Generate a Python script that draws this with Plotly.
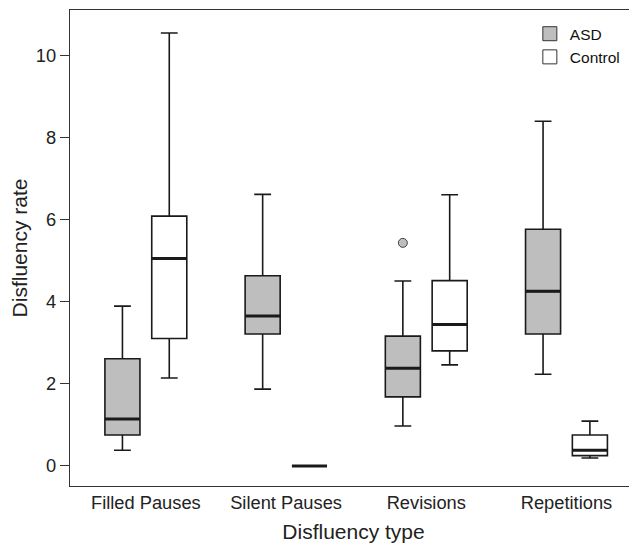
import plotly.graph_objects as go

categories = ["Filled Pauses", "Silent Pauses", "Revisions", "Repetitions"]

asd_low = [0.38, 1.87, 0.97, 2.23]
asd_q1 = [0.75, 3.21, 1.68, 3.21]
asd_med = [1.14, 3.65, 2.38, 4.25]
asd_q3 = [2.61, 4.63, 3.16, 5.76]
asd_high = [3.89, 6.61, 4.50, 8.39]

ctl_low = [2.14, 0.0, 2.46, 0.19]
ctl_q1 = [3.10, 0.0, 2.80, 0.25]
ctl_med = [5.05, 0.0, 3.44, 0.38]
ctl_q3 = [6.08, 0.0, 4.51, 0.75]
ctl_high = [10.54, 0.0, 6.60, 1.09]

asd_outlier_cat = [2]
asd_outlier_val = [5.43]

y_ticks = [0, 2, 4, 6, 8, 10]

GRAY = "#bebebe"
LINE = "#1a1a1a"
OFF = 0.167
BW = 0.25
FONT = "Liberation Sans, Arial, Helvetica, sans-serif"

fig = go.Figure()

groups = [
    ("ASD", -OFF, GRAY, asd_low, asd_q1, asd_med, asd_q3, asd_high),
    ("Control", OFF, "white", ctl_low, ctl_q1, ctl_med, ctl_q3, ctl_high),
]
for name, off, fill, lo, q1, med, q3, hi in groups:
    xs = [i + off for i in range(len(categories))]
    fig.add_trace(go.Box(
        x=xs, q1=q1, median=med, q3=q3, lowerfence=lo, upperfence=hi,
        width=BW, whiskerwidth=0.48, fillcolor=fill,
        line=dict(color=LINE, width=1.6), showlegend=False, name=name,
        boxpoints=False,
    ))
    # thick median lines
    fig.add_trace(go.Box(
        x=xs, q1=med, median=med, q3=med, lowerfence=med, upperfence=med,
        width=BW, whiskerwidth=0, fillcolor="rgba(0,0,0,0)",
        line=dict(color=LINE, width=3), showlegend=False, name=name + " median",
        boxpoints=False, hoverinfo="skip",
    ))

fig.add_trace(go.Scatter(
    x=[c - OFF for c in asd_outlier_cat], y=asd_outlier_val, mode="markers",
    marker=dict(color=GRAY, size=9, line=dict(color="#444", width=1)),
    showlegend=False,
))

for name, fill in [("ASD", GRAY), ("Control", "white")]:
    fig.add_trace(go.Scatter(
        x=[None], y=[None], mode="markers", name=name,
        marker=dict(symbol="square", size=14, color=fill,
                    line=dict(color="#333", width=1)),
    ))

# page body has an 8px default margin; figure is sized/offset to compensate
fig.update_layout(
    width=629, height=535,
    margin=dict(l=62, r=0, t=2, b=57, autoexpand=False),
    paper_bgcolor="white", plot_bgcolor="white",
    font=dict(family=FONT, color="#222"),
    boxmode="overlay",
    legend=dict(x=0.811, y=0.985, xanchor="left", yanchor="top",
                font=dict(size=15.5, family=FONT, color="#111"),
                bgcolor="rgba(0,0,0,0)", itemwidth=30, tracegroupgap=0),
)
fig.update_xaxes(
    range=[-0.541, 3.503], tickvals=list(range(len(categories))), ticktext=categories,
    showline=True, linecolor="#333", linewidth=1.3, mirror=True,
    ticks="", showgrid=False, zeroline=False,
    tickfont=dict(size=18.3, color="#222"),
    title=dict(text="Disfluency type", font=dict(size=21, color="#222"), standoff=13),
)
fig.update_yaxes(
    range=[-0.49, 11.1], tickvals=y_ticks,
    showline=True, linecolor="#333", linewidth=1.3,
    ticks="outside", ticklen=9, tickcolor="#333", tickwidth=1.2,
    showgrid=False, zeroline=False,
    tickfont=dict(size=18.3, color="#222"),
    title=dict(text="Disfluency rate", font=dict(size=21, color="#222"), standoff=8),
)

fig.write_html("out.html")
